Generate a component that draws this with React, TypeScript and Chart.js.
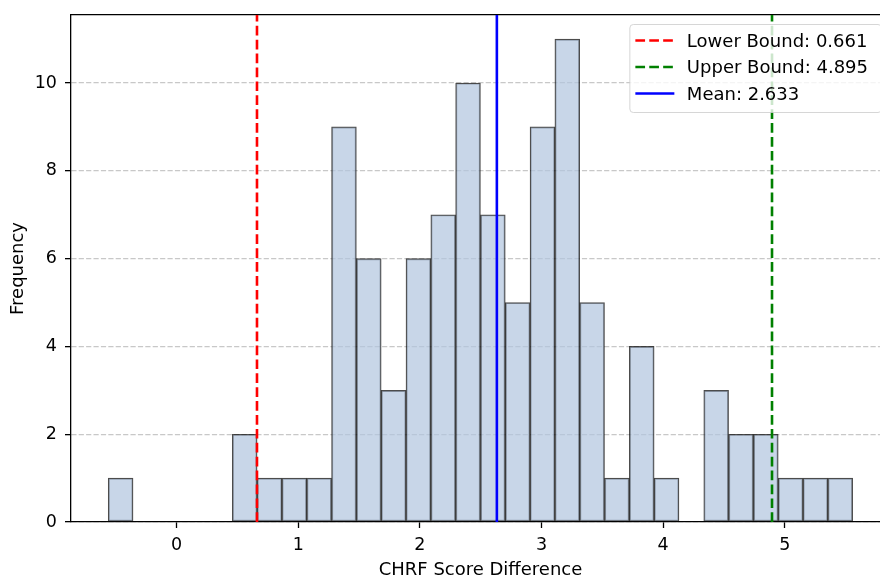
import React, { useEffect, useRef } from "react";
import { Chart, registerables } from "chart.js";

Chart.register(...registerables);

// Histogram bins (centres) and counts
const binCenters = [
  -0.46, -0.256, -0.052, 0.152, 0.356, 0.56, 0.764, 0.968, 1.172, 1.376,
  1.58, 1.784, 1.988, 2.192, 2.396, 2.6, 2.804, 3.008, 3.212, 3.416,
  3.62, 3.824, 4.028, 4.232, 4.436, 4.64, 4.844, 5.048, 5.252, 5.456,
];
const counts = [
  1, 0, 0, 0, 0, 2, 1, 1, 1, 9,
  6, 3, 6, 7, 10, 7, 5, 9, 11, 5,
  1, 4, 1, 0, 3, 2, 2, 1, 1, 1,
];
const xTicks = [0, 1, 2, 3, 4, 5];
const yTicks = [0, 2, 4, 6, 8, 10];
const xMin = -0.868;
const xMax = 5.865;
const yMax = 11.55;

const lowerBound = 0.661;
const upperBound = 4.895;
const meanValue = 2.633;
const lineLabels = ["Lower Bound: 0.661", "Upper Bound: 4.895", "Mean: 2.633"];
const xTitle = "CHRF Score Difference";
const yTitle = "Frequency";

const FONT = "'DejaVu Sans', sans-serif";

const legendPlugin = {
  id: "boxLegend",
  afterDraw(chart: any) {
    const { ctx, chartArea } = chart;
    const items = chart.data.datasets.filter((d: any) => d.type === "line");
    ctx.save();
    ctx.font = `18px ${FONT}`;
    const textW = Math.max(...items.map((d: any) => ctx.measureText(d.label).width));
    const padL = 6, handle = 39, gap = 12.5, padR = 13;
    const right = chartArea.right - 9;
    const top = chartArea.top + 9;
    const w = padL + handle + gap + textW + padR;
    const h = 88;
    const left = right - w;
    ctx.beginPath();
    ctx.roundRect(left + 0.5, top + 0.5, w, h, 3.5);
    ctx.fillStyle = "rgba(255,255,255,0.8)";
    ctx.fill();
    ctx.strokeStyle = "rgba(204,204,204,0.8)";
    ctx.lineWidth = 1;
    ctx.stroke();
    const baselines = [22.5, 49, 75.5];
    items.forEach((d: any, i: number) => {
      const by = top + baselines[i];
      const hy = by - 6;
      ctx.beginPath();
      ctx.setLineDash(d.borderDash || []);
      ctx.strokeStyle = d.borderColor;
      ctx.lineWidth = d.borderWidth;
      ctx.moveTo(left + padL, hy);
      ctx.lineTo(left + padL + handle, hy);
      ctx.stroke();
      ctx.setLineDash([]);
      ctx.fillStyle = "#000";
      ctx.textBaseline = "alphabetic";
      ctx.textAlign = "left";
      ctx.fillText(d.label, left + padL + handle + gap, by);
    });
    ctx.restore();
  },
};

export default function App() {
  const ref = useRef<HTMLCanvasElement>(null);
  useEffect(() => {
    document.body.style.margin = "0";
    const vline = (x: number, label: string, color: string, dash: number[]) => ({
      type: "line" as const,
      label,
      data: [
        { x, y: 0 },
        { x, y: yMax },
      ],
      borderColor: color,
      borderWidth: 2.6,
      borderDash: dash,
      pointRadius: 0,
      fill: false,
      order: 0,
    });
    const chart = new Chart(ref.current!, {
      type: "bar",
      data: {
        datasets: [
          vline(lowerBound, lineLabels[0], "#ff0000", [9.7, 4.2]),
          vline(upperBound, lineLabels[1], "#008000", [9.7, 4.2]),
          vline(meanValue, lineLabels[2], "#0000ff", []),
          {
            type: "bar" as const,
            label: "hist",
            data: binCenters.map((x, i) => ({ x, y: counts[i] })),
            backgroundColor: "rgba(176,196,222,0.7)",
            borderColor: "rgba(0,0,0,0.7)",
            borderWidth: 1.25,
            borderSkipped: false,
            barPercentage: 1,
            categoryPercentage: 1,
            order: 1,
          } as any,
        ],
      },
      options: {
        responsive: false,
        animation: false,
        events: [],
        layout: { padding: { top: 15, left: 0, right: 0, bottom: 0 } },
        plugins: { legend: { display: false }, tooltip: { enabled: false } },
        scales: {
          x: {
            type: "linear",
            min: xMin,
            max: xMax,
            offset: false,
            afterBuildTicks: (s: any) => {
              s.ticks = xTicks.map((v) => ({ value: v }));
            },
            afterFit: (s: any) => {
              s.height = 55;
              s.paddingLeft = 0;
              s.paddingRight = 0;
            },
            grid: {
              offset: false,
              drawOnChartArea: false,
              drawTicks: true,
              tickLength: 6,
              tickColor: "#000",
              tickWidth: 1.3,
            },
            border: { display: true, color: "#000", width: 1.3 },
            ticks: {
              font: { family: FONT, size: 17.5 },
              color: "#000",
              padding: 6.5,
              maxRotation: 0,
              autoSkip: false,
            },
            title: {
              display: true,
              text: xTitle,
              font: { family: FONT, size: 18, lineHeight: 1 },
              color: "#000",
              padding: { top: 0, bottom: -2.8 },
            },
          },
          xTop: {
            type: "linear",
            position: "top",
            min: xMin,
            max: xMax,
            offset: false,
            afterFit: (s: any) => {
              s.height = 0;
              s.paddingLeft = 0;
              s.paddingRight = 0;
            },
            grid: { display: false, drawTicks: false, offset: false },
            ticks: { display: false },
            border: { display: true, color: "#000", width: 1.3 },
          },
          y: {
            type: "linear",
            min: 0,
            max: yMax,
            afterBuildTicks: (s: any) => {
              s.ticks = yTicks.map((v) => ({ value: v }));
            },
            afterFit: (s: any) => {
              s.width = 71;
              s.paddingTop = 0;
              s.paddingBottom = 0;
            },
            grid: {
              color: "rgba(176,176,176,0.7)",
              lineWidth: 1.3,
              tickLength: 6,
              tickColor: "#000",
              tickWidth: 1.3,
              tickBorderDash: [],
            },
            border: { display: true, color: "#000", width: 1.3, dash: [5.2, 2.2] },
            ticks: {
              font: { family: FONT, size: 17.5 },
              color: "#000",
              padding: 8,
            },
            title: {
              display: true,
              text: yTitle,
              font: { family: FONT, size: 18, lineHeight: 1 },
              color: "#000",
              padding: { top: 9.2, bottom: 0 },
            },
          },
        } as any,
      },
      plugins: [legendPlugin],
    });
    return () => chart.destroy();
  }, []);
  return (
    <div style={{ width: 880, height: 577, overflow: "hidden", position: "relative" }}>
      <canvas ref={ref} width={890} height={577} style={{ display: "block", width: 890, height: 577 }} />
    </div>
  );
}
